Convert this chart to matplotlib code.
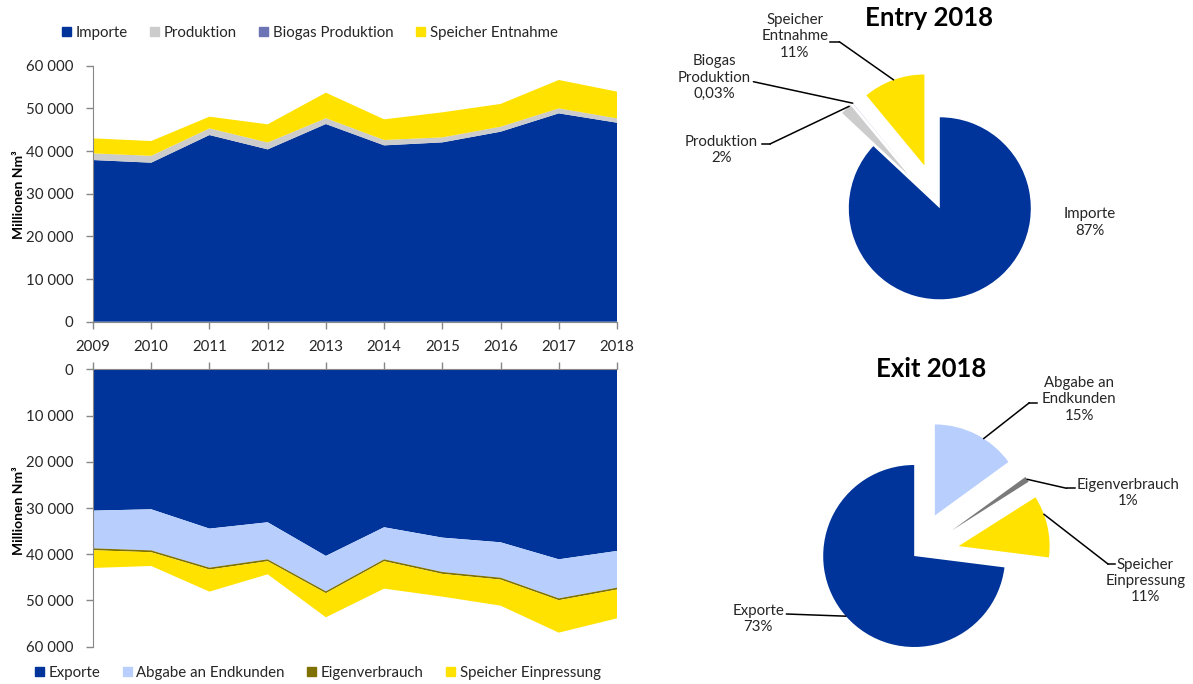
import numpy as np
import matplotlib
matplotlib.use("Agg")
import matplotlib.pyplot as plt
from matplotlib.ticker import FuncFormatter
from matplotlib.lines import Line2D

plt.rcParams['font.family'] = ['Lato', 'DejaVu Sans']

W, H = 1193, 684

years = [2009, 2010, 2011, 2012, 2013, 2014, 2015, 2016, 2017, 2018]

# Entry (Millionen Nm3)
importe = [37890, 37270, 43750, 40390, 46330, 41330, 42030, 44530, 48830, 46640]
produktion = [1550, 1600, 1550, 1600, 1350, 1250, 1150, 1150, 1150, 1000]
biogas = [5, 5, 5, 10, 10, 10, 15, 15, 15, 15]
speicher_entnahme = [3530, 3470, 2750, 4260, 5990, 4840, 5880, 5340, 6660, 6270]

# Exit (Millionen Nm3)
exporte = [30570, 30280, 34460, 33090, 40370, 34170, 36410, 37420, 41100, 39290]
endkunden = [8160, 8890, 8450, 8020, 7660, 6940, 7440, 7660, 8450, 7950]
eigenverbrauch = [400, 400, 400, 400, 400, 400, 400, 400, 400, 400]
speicher_einpressung = [3840, 2970, 4780, 2830, 5210, 5930, 4920, 5640, 7010, 6220]

# Pie shares 2018 (%), in drawing order
entry_names = ['Importe', 'Produktion', 'Biogas Produktion', 'Speicher Entnahme']
entry_share = [87, 2, 0.03, 11]
entry_text = ['Importe\n87%', 'Produktion\n2%', 'Biogas\nProduktion\n0,03%', 'Speicher\nEntnahme\n11%']

exit_names = ['Exporte', 'Speicher Einpressung', 'Eigenverbrauch', 'Abgabe an Endkunden']
exit_share = [73, 11, 1, 15]
exit_text = ['Exporte\n73%', 'Speicher\nEinpressung\n11%', 'Eigenverbrauch\n1%', 'Abgabe an\nEndkunden\n15%']

BLUE = '#00349A'
GREY = '#CCCCCC'
BIO = '#6C74B6'
YELLOW = '#FFE200'
LIGHTBLUE = '#B8CFFE'
OLIVE = '#7F7100'
DARKGREY = '#7A7A7A'
SPINE = '#878787'
TXT = '#262626'
FS = 10.8


def fx(x):
    return x / W


def fy(y):
    return 1 - y / H


def thousands(v, pos):
    return f"{int(v):,}".replace(",", " ")


fig = plt.figure(figsize=(W / 100, H / 100), dpi=100)

# ---- top area chart
ax1 = fig.add_axes([fx(93), fy(321.7), (617 - 93) / W, (321.7 - 65.7) / H])
ax1.stackplot(years, importe, produktion, biogas, speicher_entnahme,
              colors=[BLUE, GREY, BIO, YELLOW], linewidth=0)
ax1.set_xlim(2009, 2018)
ax1.set_ylim(0, 60000)
ax1.set_xticks(years)
ax1.set_yticks(range(0, 60001, 10000))
ax1.yaxis.set_major_formatter(FuncFormatter(thousands))

# ---- bottom area chart (inverted)
ax2 = fig.add_axes([fx(93), fy(646.7), (617 - 93) / W, (646.7 - 369.3) / H])
ax2.stackplot(years, exporte, endkunden, eigenverbrauch, speicher_einpressung,
              colors=[BLUE, LIGHTBLUE, OLIVE, YELLOW], linewidth=0)
ax2.set_xlim(2009, 2018)
ax2.set_ylim(60000, 0)
ax2.set_xticks(years)
ax2.set_yticks(range(0, 60001, 10000))
ax2.yaxis.set_major_formatter(FuncFormatter(thousands))
ax2.xaxis.tick_top()

for ax in (ax1, ax2):
    for s in ax.spines.values():
        s.set_color(SPINE)
    ax.spines['right'].set_visible(False)
    ax.tick_params(colors=SPINE, labelcolor=TXT, labelsize=FS, length=5, width=1)
    ax.tick_params(axis='y', pad=9)
    ax.tick_params(axis='x', pad=8)
ax1.spines['top'].set_visible(False)
ax2.spines['bottom'].set_visible(False)
ax2.tick_params(axis='x', labeltop=False, labelbottom=False)

fig.text(fx(19), fy(195), 'Millionen Nm³', rotation=90, ha='center', va='center',
         fontsize=10, fontweight='bold', color='black')
fig.text(fx(19), fy(511), 'Millionen Nm³', rotation=90, ha='center', va='center',
         fontsize=10, fontweight='bold', color='black')

# ---- legends
leg_kw = dict(loc='center left', frameon=False, ncol=4, fontsize=FS,
              handlelength=0.6, handleheight=0.6, handletextpad=0.3,
              columnspacing=1.5, borderpad=0, borderaxespad=0)
top_handles = [plt.Rectangle((0, 0), 1, 1, color=c) for c in [BLUE, GREY, BIO, YELLOW]]
leg1 = fig.legend(top_handles, ['Importe', 'Produktion', 'Biogas Produktion', 'Speicher Entnahme'],
                  bbox_to_anchor=(fx(62), fy(33)), **leg_kw)
bot_handles = [plt.Rectangle((0, 0), 1, 1, color=c) for c in [BLUE, LIGHTBLUE, OLIVE, YELLOW]]
leg2 = fig.legend(bot_handles, ['Exporte', 'Abgabe an Endkunden', 'Eigenverbrauch', 'Speicher Einpressung'],
                  bbox_to_anchor=(fx(35), fy(673)), **leg_kw)
for lg in (leg1, leg2):
    for t in lg.get_texts():
        t.set_color(TXT)

# ---- pies
R = 91
LIM = 1.9


def pie_axes(cx, cy):
    side = 2 * LIM * R
    return fig.add_axes([fx(cx - side / 2), fy(cy + side / 2), side / W, side / H])


def leader(ax, wedge, frac, elbow_from, elbow_to):
    ang = np.deg2rad(wedge.theta1 + frac * (wedge.theta2 - wedge.theta1))
    cx, cy = wedge.center
    pt = (cx + wedge.r * np.cos(ang), cy + wedge.r * np.sin(ang))
    if elbow_from is not None:
        fig.add_artist(Line2D([fx(elbow_from[0]), fx(elbow_to[0])],
                              [fy(elbow_from[1]), fy(elbow_to[1])],
                              transform=fig.transFigure, color='black', lw=1.1))
    ax.annotate('', xy=pt, xycoords='data', xytext=(fx(elbow_to[0]), fy(elbow_to[1])),
                textcoords='figure fraction', annotation_clip=False,
                arrowprops=dict(arrowstyle='-', color='black', lw=1.1, shrinkA=0, shrinkB=0))


ax3 = pie_axes(939.8, 208.3)
w3, _ = ax3.pie(entry_share, colors=[BLUE, GREY, BIO, YELLOW], startangle=90,
                counterclock=False, explode=[0, 0.5, 0.5, 0.5], radius=1,
                wedgeprops=dict(linewidth=0))
ax3.set_xlim(-LIM, LIM)
ax3.set_ylim(-LIM, LIM)
ax3.axis('off')
fig.text(fx(928.8), fy(18), 'Entry 2018', ha='center', va='center', fontsize=18.5,
         fontweight='bold', color='black')

entry_pos = [(1089.7, 222.5), (721.6, 150), (714.3, 77.5), (794.7, 36.5)]
for txt, (x, y) in zip(entry_text, entry_pos):
    fig.text(fx(x), fy(y), txt, ha='center', va='center', fontsize=FS, color=TXT)
leader(ax3, w3[3], 0.5, (830, 41.7), (839.3, 41.7))
leader(ax3, w3[2], 0.5, None, (753.4, 81.7))
leader(ax3, w3[1], 0.15, (761.8, 144), (769.9, 144))

ax4 = pie_axes(914.2, 556)
w4, _ = ax4.pie(exit_share, colors=[BLUE, YELLOW, DARKGREY, LIGHTBLUE], startangle=90,
                counterclock=True, explode=[0, 0.5, 0.5, 0.5], radius=1,
                wedgeprops=dict(linewidth=0))
ax4.set_xlim(-LIM, LIM)
ax4.set_ylim(-LIM, LIM)
ax4.axis('off')
fig.text(fx(931.4), fy(369.3), 'Exit 2018', ha='center', va='center', fontsize=18.5,
         fontweight='bold', color='black')

exit_pos = [(758.2, 619.3), (1145.2, 580.7), (1128, 493.3), (1079.4, 399.3)]
for txt, (x, y) in zip(exit_text, exit_pos):
    fig.text(fx(x), fy(y), txt, ha='center', va='center', fontsize=FS, color=TXT)
leader(ax4, w4[0], 0.5, None, (786.3, 614))
leader(ax4, w4[1], 0.7, (1115.2, 564), (1108, 564))
leader(ax4, w4[2], 0.5, (1075, 488.3), (1066.6, 488.3))
leader(ax4, w4[3], 0.4, (1036.7, 402.7), (1029.4, 402.7))

fig.savefig('out.png', dpi=100)
